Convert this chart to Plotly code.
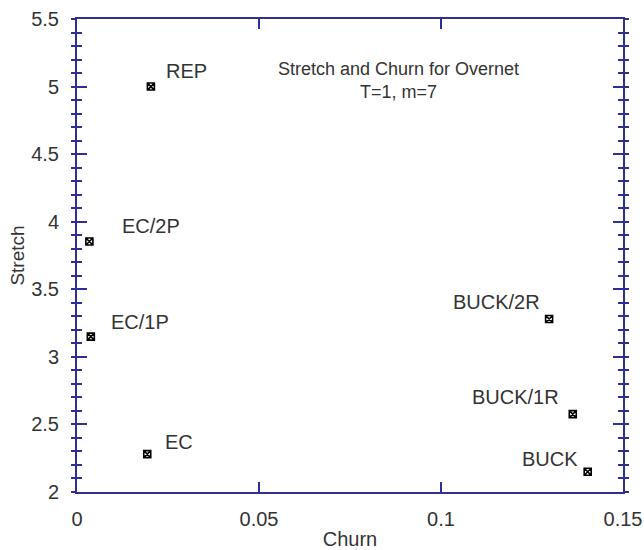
import plotly.graph_objects as go

names = ["REP", "EC/2P", "EC/1P", "EC", "BUCK/2R", "BUCK/1R", "BUCK"]
churn = [0.0203, 0.0034, 0.0038, 0.0193, 0.1297, 0.1362, 0.1403]
stretch = [5.0, 3.854, 3.15, 2.28, 3.28, 2.576, 2.15]

x_ticks = [0, 0.05, 0.1, 0.15]
x_ticklabels = ["0", "0.05", "0.1", "0.15"]
y_ticks = [2, 2.5, 3, 3.5, 4, 4.5, 5, 5.5]
y_ticklabels = ["2", "2.5", "3", "3.5", "4", "4.5", "5", "5.5"]

# label placement styles (pixel offsets from marker)
label_style = {
    "REP": ("left", 13, 16),
    "EC/2P": ("left", 31, 15),
    "EC/1P": ("left", 18, 15),
    "EC": ("left", 16, 12),
    "BUCK/2R": ("right", -7, 17),
    "BUCK/1R": ("right", -12, 17),
    "BUCK": ("right", -8, 13),
}

AX = "#2e2e96"
TXT = "#333333"
FONT = "Liberation Sans, Arial, sans-serif"

fig = go.Figure()
fig.add_trace(go.Scatter(
    x=churn, y=stretch, mode="markers",
    marker=dict(symbol="square-x-open", size=7, color="black",
                line=dict(width=1.6, color="black")),
    showlegend=False, hoverinfo="skip"))
# invisible trace to hold overlay axis
fig.add_trace(go.Scatter(x=[churn[0]], y=[stretch[0]], xaxis="x", yaxis="y2",
                         mode="markers", marker=dict(opacity=0),
                         showlegend=False, hoverinfo="skip"))

for n, cx, sy in zip(names, churn, stretch):
    anc, dx, dy = label_style[n]
    fig.add_annotation(x=cx, y=sy, text=n, showarrow=False,
                       xanchor=anc, yanchor="middle", xshift=dx, yshift=dy,
                       font=dict(family=FONT, size=20, color=TXT))

fig.add_annotation(xref="x", yref="y", x=0.0883, y=5.044,
                   text="Stretch and Churn for Overnet<br>T=1, m=7",
                   showarrow=False, align="center", xanchor="center",
                   yanchor="middle",
                   font=dict(family=FONT, size=18, color=TXT))

fig.update_layout(
    width=644, height=550,
    margin=dict(l=77, r=21, t=19, b=58),
    paper_bgcolor="white", plot_bgcolor="white",
    font=dict(family=FONT, size=20, color=TXT),
    xaxis=dict(range=[0, 0.15], tickvals=x_ticks, ticktext=x_ticklabels,
               automargin=False,
               showgrid=False, zeroline=False, showline=True, linecolor=AX,
               linewidth=2, mirror="ticks", ticks="inside", ticklen=10,
               tickcolor=AX, tickwidth=1.5, ticklabelstandoff=8,
               tickfont=dict(size=20),
               title=dict(text="Churn", font=dict(size=20), standoff=4)),
    yaxis=dict(range=[2, 5.5], tickvals=y_ticks, ticktext=y_ticklabels,
               automargin=False,
               showgrid=False, zeroline=False, showline=True, linecolor=AX,
               linewidth=2, mirror="ticks", ticks="inside", ticklen=10,
               tickcolor=AX, tickwidth=1.5, ticklabelstandoff=12,
               tickfont=dict(size=20),
               minor=dict(dtick=0.1, ticks="inside", ticklen=5,
                          tickcolor=AX, tickwidth=1.5, showgrid=False),
               title=dict(text="Stretch", font=dict(size=19), standoff=2)),
    yaxis2=dict(range=[2, 5.5], overlaying="y", side="left",
                automargin=False,
                tickvals=y_ticks, showticklabels=False,
                showgrid=False, zeroline=False, showline=False,
                mirror="ticks", ticks="outside", ticklen=0,
                minor=dict(dtick=0.1, ticks="outside", ticklen=5,
                           tickcolor=AX, tickwidth=1.5, showgrid=False)),
)

fig.write_html("out.html")
